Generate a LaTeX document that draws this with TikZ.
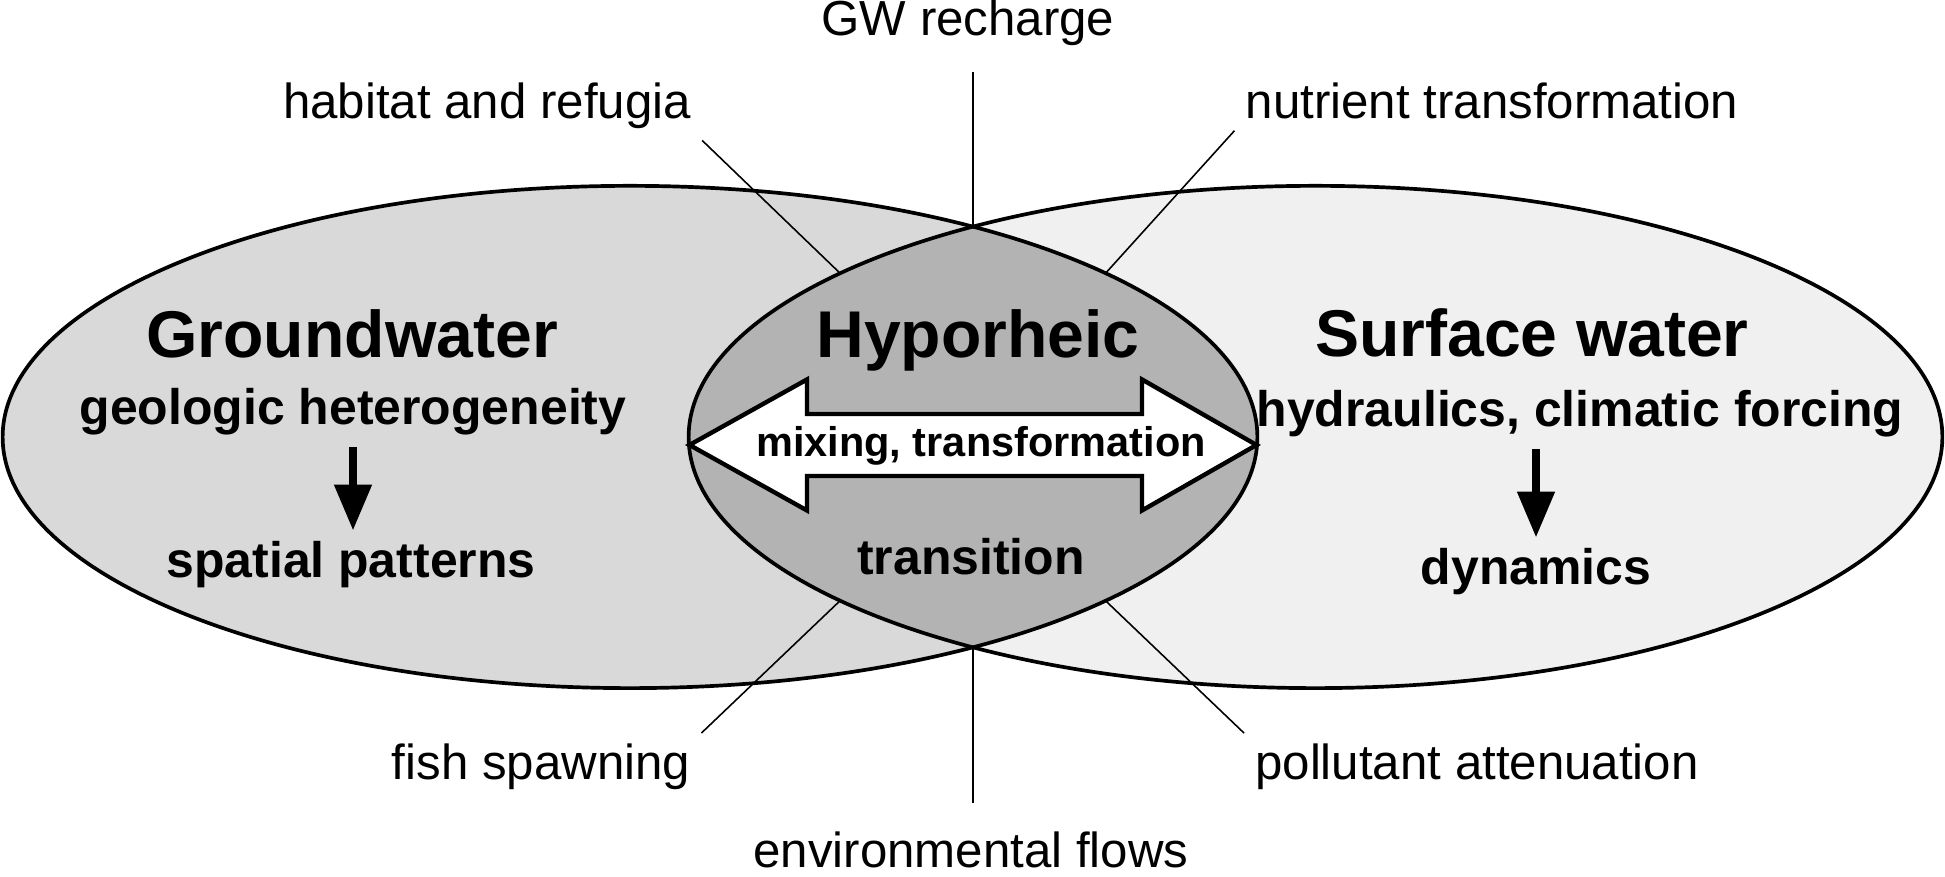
\documentclass[tikz,border=0pt]{standalone}
\usepackage{fontspec}
\setmainfont{Liberation Sans}
\usetikzlibrary{arrows.meta, shapes.geometric, calc}
\definecolor{cInk}{HTML}{000000}
\definecolor{cGw}{HTML}{D9D9D9}
\definecolor{cSw}{HTML}{F0F0F0}
\definecolor{cHyp}{HTML}{B3B3B3}
\tikzset{
  zone/.style={ellipse, inner sep=0pt, outer sep=0pt, minimum width=12.54cm, minimum height=5.02cm},
  rim/.style={draw=cInk, line width=1.05pt},
  flow/.style={draw=cInk, fill=white, line width=1.25pt, line join=miter},
  lab/.style={font=\fontsize{14}{16}\selectfont, text=cInk, inner sep=3pt},
  title/.style={font=\fontsize{18.8}{20}\selectfont\bfseries, text=cInk, inner sep=3pt},
  sub/.style={font=\fontsize{14.2}{16}\selectfont\bfseries, text=cInk, inner sep=3pt},
  inlab/.style={font=\fontsize{11.8}{13}\selectfont\bfseries, text=cInk, inner sep=2pt},
  lead/.style={draw=cInk, line width=0.45pt},
  drop/.style={-{Triangle[length=4.6mm, width=3.6mm]}, line width=2.3pt, draw=cInk},
}

\begin{document}
\begin{tikzpicture}[x=0.01cm, y=0.01cm]
  \useasboundingbox (0,0) rectangle (1945,877);

  % ---- the two water bodies and their overlap
  \node[zone, fill=cGw] (ground) at (630,440) {};
  \node[zone, fill=cSw, minimum width=12.53cm] (surface) at (1315.5,440) {};
  \begin{scope}
    \clip (ground.center) ellipse [x radius=6.27cm, y radius=2.51cm];
    \fill[cHyp] (surface.center) ellipse [x radius=6.265cm, y radius=2.51cm];
  \end{scope}
  \draw[rim] (ground.center) ellipse [x radius=6.27cm, y radius=2.51cm];
  \draw[rim] (surface.center) ellipse [x radius=6.265cm, y radius=2.51cm];
  \coordinate (top) at (972.75,650.2);
  \coordinate (bot) at (972.75,229.8);

  % ---- exchange arrow across the hyporheic zone
  \draw[flow] (689.5,432) -- (807,497.5) -- (807,463) -- (1142,463) -- (1142,497.5)
    -- (1256.5,432) -- (1142,366.5) -- (1142,401) -- (807,401) -- (807,366.5) -- cycle;
  \node[inlab, anchor=base] (mix) at (981,420.5) {mixing, transformation};

  % ---- zone texts
  \node[title, anchor=base] (gwt) at (352,519) {Groundwater};
  \node[sub, anchor=base] (geo) at (353,452) {geologic heterogeneity};
  \node[sub, anchor=base] (spat) at (351,299) {spatial patterns};
  \node[title, anchor=base] (hypt) at (978,519) {Hyporheic};
  \node[sub, anchor=base] (trans) at (971,302) {transition};
  \node[title, anchor=base] (swt) at (1532,520) {Surface water};
  \node[sub, anchor=base] (hyd) at (1580,450) {hydraulics, climatic forcing};
  \node[sub, anchor=base] (dyn) at (1536,292) {dynamics};
  \draw[drop] (geo.south) -- (geo.south |- spat.north);
  \draw[drop] (dyn.north |- hyd.south) -- (dyn.north);

  % ---- functions round the overlap
  \node[lab, anchor=base] (gwr) at (968,841) {GW recharge};
  \node[lab, anchor=base] (hab) at (487,758) {habitat and refugia};
  \node[lab, anchor=base] (nut) at (1492,758) {nutrient transformation};
  \node[lab, anchor=base] (fish) at (541,97) {fish spawning};
  \node[lab, anchor=base] (poll) at (1477,97) {pollutant attenuation};
  \node[lab, anchor=base] (env) at (971,9) {environmental flows};

  \draw[lead, shorten >=1.5mm] (top) -- (top |- gwr.south);
  \draw[lead, shorten >=1.85mm] (bot) -- (bot |- env.north);
  \draw[lead] (hab.south east) -- (surface.161);
  \draw[lead] (nut.south west) -- (ground.19);
  \draw[lead] (fish.north east) -- (surface.199);
  \draw[lead] (poll.north west) -- (ground.341);
\end{tikzpicture}
\end{document}
